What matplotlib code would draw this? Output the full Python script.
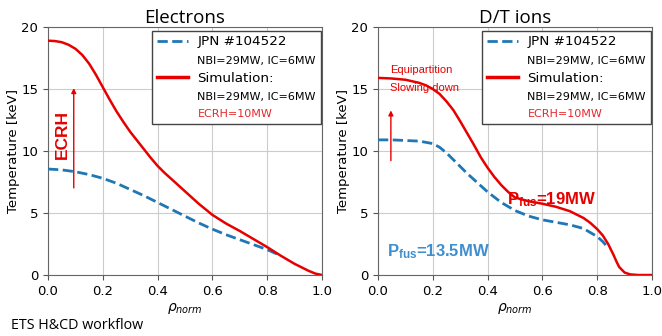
import matplotlib
matplotlib.use("Agg")
import matplotlib.pyplot as plt
from matplotlib.lines import Line2D

plt.rcParams['font.family'] = ['DejaVu Sans']
plt.rcParams['mathtext.fontset'] = 'custom'
plt.rcParams['mathtext.rm'] = 'Liberation Sans'
plt.rcParams['mathtext.bf'] = 'Liberation Sans:bold'
plt.rcParams['mathtext.it'] = 'DejaVu Sans:italic'

# ---------------- data ----------------
rho_e_exp = [0.0, 0.05, 0.1, 0.15, 0.2, 0.25, 0.3, 0.35, 0.4, 0.45, 0.5, 0.55,
             0.6, 0.65, 0.7, 0.75, 0.8, 0.85]
te_exp = [8.55, 8.48, 8.33, 8.1, 7.8, 7.4, 6.9, 6.4, 5.85, 5.3, 4.75, 4.2,
          3.7, 3.25, 2.85, 2.45, 2.05, 1.55]

rho_e_sim = [0.0, 0.025, 0.05, 0.075, 0.1, 0.125, 0.15, 0.175, 0.2, 0.225,
             0.25, 0.275, 0.3, 0.325, 0.35, 0.375, 0.4, 0.425, 0.45, 0.5,
             0.55, 0.6, 0.65, 0.7, 0.75, 0.8, 0.85, 0.9, 0.95, 0.975, 1.0]
te_sim = [18.9, 18.87, 18.78, 18.57, 18.25, 17.75, 17.05, 16.15, 15.15, 14.15,
          13.2, 12.35, 11.55, 10.85, 10.15, 9.45, 8.8, 8.25, 7.75, 6.75,
          5.75, 4.85, 4.15, 3.55, 2.9, 2.25, 1.55, 0.9, 0.35, 0.12, 0.0]

rho_i_exp = [0.0, 0.05, 0.1, 0.15, 0.2, 0.225, 0.25, 0.275, 0.3, 0.325, 0.35,
             0.375, 0.4, 0.45, 0.5, 0.55, 0.6, 0.65, 0.7, 0.75, 0.8, 0.82,
             0.84]
ti_exp = [10.9, 10.9, 10.85, 10.8, 10.6, 10.3, 9.85, 9.3, 8.75, 8.2, 7.7,
          7.2, 6.7, 5.85, 5.2, 4.75, 4.45, 4.25, 4.05, 3.75, 3.1, 2.7, 2.2]

rho_i_sim = [0.0, 0.05, 0.1, 0.15, 0.175, 0.2, 0.225, 0.25, 0.275, 0.3,
             0.325, 0.35, 0.375, 0.4, 0.425, 0.45, 0.475, 0.5, 0.55, 0.6,
             0.65, 0.7, 0.75, 0.775, 0.8, 0.82, 0.84, 0.86, 0.87, 0.88, 0.9,
             0.92, 0.95, 1.0]
ti_sim = [15.9, 15.85, 15.75, 15.5, 15.3, 15.0, 14.6, 14.0, 13.3, 12.4,
          11.45, 10.5, 9.5, 8.65, 7.9, 7.25, 6.7, 6.25, 5.95, 5.75,
          5.5, 5.15, 4.6, 4.2, 3.7, 3.2, 2.5, 1.6, 1.1, 0.65, 0.2,
          0.05, 0.0, 0.0]

titles = ["Electrons", "D/T ions"]
legend_labels = ["JPN #104522", "NBI=29MW, IC=6MW", "Simulation:",
                 "NBI=29MW, IC=6MW", "ECRH=10MW"]
xticks = [0.0, 0.2, 0.4, 0.6, 0.8, 1.0]
yticks = [0, 5, 10, 15, 20]

RED = '#e60000'
BLUE = '#1f77b4'
LBLUE = '#3f8fd0'

fig = plt.figure(figsize=(6.62, 3.36), dpi=100)
axL = fig.add_axes([0.0725, 0.1815, 0.4139, 0.738])
axR = fig.add_axes([0.571, 0.1815, 0.4139, 0.738])

datasets = [(rho_e_exp, te_exp, rho_e_sim, te_sim),
            (rho_i_exp, ti_exp, rho_i_sim, ti_sim)]

for ax, title, (xe, ye, xs, ys) in zip([axL, axR], titles, datasets):
    ax.plot(xe, ye, '--', color=BLUE, lw=2.0, zorder=3)
    ax.plot(xs, ys, '-', color=RED, lw=1.8, zorder=4)
    ax.set_xlim(0, 1)
    ax.set_ylim(0, 20)
    ax.set_xticks(xticks)
    ax.set_yticks(yticks)
    ax.grid(True, color='#cccccc', lw=0.8)
    ax.set_axisbelow(True)
    ax.tick_params(labelsize=9.5, color='#555555', length=3.5)
    for s in ax.spines.values():
        s.set_color('#666666')
    ax.set_ylabel('Temperature [keV]', fontsize=9.5, labelpad=1)
    ax.set_xlabel(r'$\rho_{norm}$', fontsize=10, labelpad=2)
    ax.set_title(title, fontsize=13.5, family='Open Sans', pad=3)

    handles = [Line2D([], [], ls='--', color=BLUE, lw=2.0),
               Line2D([], [], ls='none'),
               Line2D([], [], ls='-', color=RED, lw=2.5),
               Line2D([], [], ls='none'),
               Line2D([], [], ls='none')]
    leg = ax.legend(handles, legend_labels, loc='upper right',
                    bbox_to_anchor=(0.995, 0.985), fontsize=9.7,
                    fancybox=False, edgecolor='#444444', framealpha=1,
                    borderpad=0.35, labelspacing=0.44, handlelength=2.3,
                    handletextpad=0.7, borderaxespad=0.0)
    leg.get_frame().set_linewidth(1.0)
    texts = leg.get_texts()
    for i in (1, 3, 4):
        texts[i].set_fontsize(8)
    texts[4].set_color('#e8262b')

# annotations, left
axL.annotate('', xy=(0.094, 15.3), xytext=(0.094, 6.8),
             arrowprops=dict(arrowstyle='-|>', color=RED, lw=1.0,
                             mutation_scale=7))
axL.text(0.054, 11.3, 'ECRH', rotation=90, color=RED, family='Liberation Sans',
         weight='bold', fontsize=12.5, ha='center', va='center')

# annotations, right
axR.annotate('', xy=(0.047, 13.5), xytext=(0.047, 9.0),
             arrowprops=dict(arrowstyle='-|>', color=RED, lw=1.0,
                             mutation_scale=7))
axR.text(0.044, 16.5, 'Equipartition', color=RED, family='Liberation Sans',
         fontsize=8, ha='left', va='center')
axR.text(0.044, 15.1, 'Slowing down', color=RED, family='Liberation Sans',
         fontsize=8, ha='left', va='center')
axR.text(0.47, 6.1, r'$\mathbf{P_{fus}}$=19MW', color=RED,
         family='Liberation Sans', weight='bold', fontsize=12, ha='left',
         va='center')
axR.text(0.033, 1.9, r'$\mathbf{P_{fus}}$=13.5MW', color=LBLUE,
         family='Liberation Sans', weight='bold', fontsize=12, ha='left',
         va='center')

fig.text(0.017, 0.03, 'ETS H&CD workflow', family='Open Sans', fontsize=10.3,
         ha='left', va='center')

fig.savefig('out.png', dpi=100)
